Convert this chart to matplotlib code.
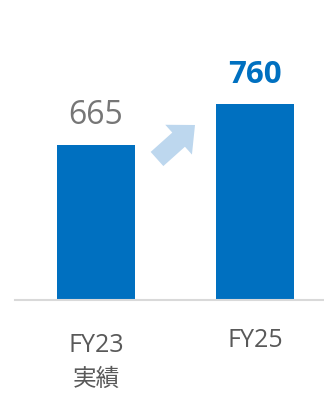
import matplotlib
matplotlib.use("Agg")
import matplotlib.pyplot as plt
from matplotlib.patches import FancyArrow

plt.rcParams['font.family'] = ['Open Sans', 'Noto Sans CJK JP', 'DejaVu Sans']

# Chart data
periods = ["FY23", "FY25"]
notes = ["実績", ""]
values = [665, 760]
label_colors = ["#767676", "#0070C0"]
label_weights = ["normal", "bold"]

bar_color = "#0070C0"
arrow_color = "#BDD7EE"

W, H = 324, 393
fig = plt.figure(figsize=(W / 100, H / 100), dpi=100)

# axes spans from the left gutter to the right edge, baseline at y=300px from top
ax = fig.add_axes([15 / W, (H - 300) / H, (W - 15) / W, 300 / H])
ax.set_xlim(-0.509, 1.434)
ax.set_ylim(306, 1001)
ax.axis('off')

x = range(len(values))
ax.bar(x, values, width=0.49, color=bar_color)
ax.set_ylim(306, 1001)

# baseline
ax.axhline(306, color="#D9D9D9", lw=1.5, clip_on=False)

# value labels above bars
for xi, v, c, w in zip(x, values, label_colors, label_weights):
    ax.annotate(str(v), (xi, v), xytext=(0, 15.5), textcoords="offset points",
                ha="center", va="baseline", fontsize=23 if w == "normal" else 22.5,
                color=c, fontweight=w)

# category labels under the axis
for xi, lab, note in zip(x, periods, notes):
    dy = -37.4 if note else -33.8
    ax.annotate(lab, (xi, 306), xytext=(0, dy), textcoords="offset points",
                ha="center", va="baseline", fontsize=18, color="#595959",
                annotation_clip=False)
    if note:
        ax.annotate(note, (xi, 306), xytext=(0, -62), textcoords="offset points",
                    ha="center", va="baseline", fontsize=17, color="#595959",
                    annotation_clip=False)

# growth arrow between the bars (drawn in inches so it keeps its shape)
arr = FancyArrow(1.57, 2.34, 0.38, 0.34, width=0.19,
                 head_width=0.40, head_length=0.22, length_includes_head=True,
                 transform=fig.dpi_scale_trans, color=arrow_color, lw=0)
fig.patches.append(arr)

fig.savefig("out.png", dpi=100)
